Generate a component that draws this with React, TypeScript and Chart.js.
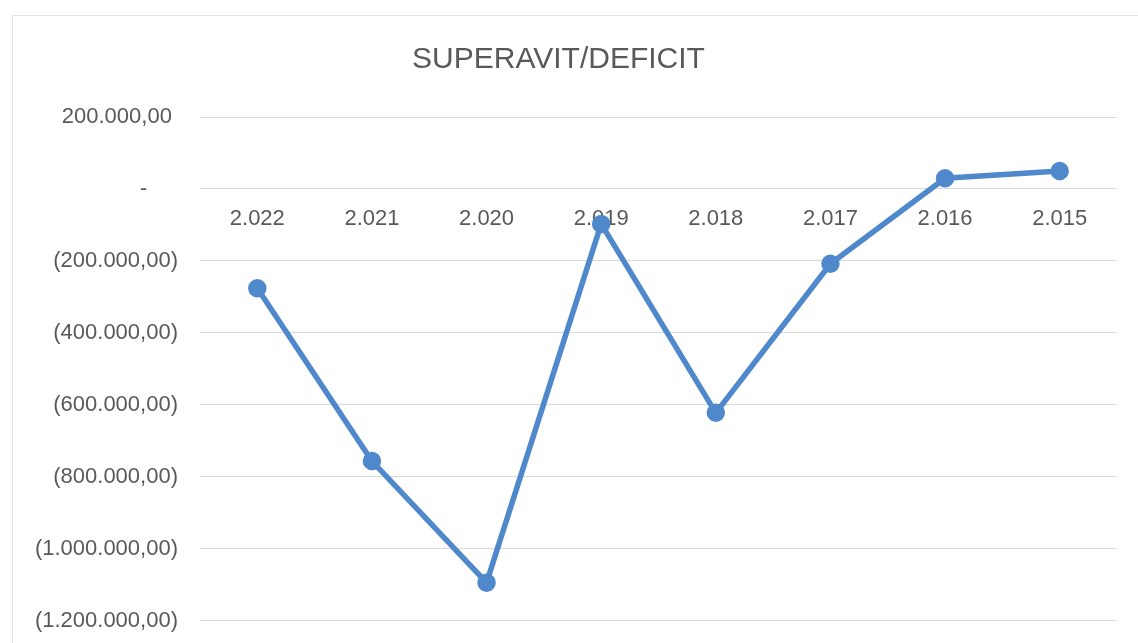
import React, { useEffect, useRef } from "react";
import { Chart, registerables } from "chart.js";

Chart.register(...registerables);

const chartTitle = "SUPERAVIT/DEFICIT";
const years = ["2.022", "2.021", "2.020", "2.019", "2.018", "2.017", "2.016", "2.015"];
const balance = [-276000, -756000, -1094000, -97000, -622000, -208000, 30000, 50000];
const yMin = -1200000;
const yMax = 200000;
const yStep = 200000;

function formatAccounting(v: number): string {
  if (Math.round(v) === 0) return "-\u2007\u2007 ";
  const abs = Math.abs(v);
  const intPart = Math.floor(abs).toString().replace(/\B(?=(\d{3})+(?!\d))/g, ".");
  const s = intPart + ",00";
  return v < 0 ? "(" + s + ")" : s + " ";
}

export default function App() {
  const canvasRef = useRef<HTMLCanvasElement | null>(null);

  useEffect(() => {
    if (!canvasRef.current) return;
    const textColor = "#595959";
    const lineColor = "#5089cb";
    const font = "'Liberation Sans', Arial, sans-serif";
    const chart = new Chart(canvasRef.current, {
      type: "line",
      data: {
        labels: years,
        datasets: [
          {
            label: chartTitle,
            data: balance,
            borderColor: lineColor,
            backgroundColor: lineColor,
            borderWidth: 5.5,
            pointRadius: 6.5,
            pointBackgroundColor: lineColor,
            pointBorderColor: lineColor,
            tension: 0,
          },
        ],
      },
      options: {
        animation: false,
        responsive: false,
        devicePixelRatio: 1,
        layout: { padding: { left: 0, right: 21, top: 0, bottom: 23 } },
        plugins: {
          legend: { display: false },
          tooltip: { enabled: false },
          title: {
            display: true,
            text: chartTitle,
            color: textColor,
            font: { family: font, size: 30, weight: "normal" },
            padding: { top: 42, bottom: 39 },
          },
        },
        scales: {
          x: {
            type: "category",
            position: { y: 0 } as any,
            offset: true,
            grid: { display: false, drawTicks: false },
            border: { display: false },
            ticks: {
              color: textColor,
              font: { family: font, size: 22 },
              padding: 17,
              maxRotation: 0,
            },
          },
          y: {
            min: yMin,
            max: yMax,
            grid: { color: "#d9d9d9", lineWidth: 1, drawTicks: false },
            border: { display: false },
            ticks: {
              stepSize: yStep,
              color: textColor,
              font: { family: font, size: 22 },
              padding: 22,
              callback: (v: any) => formatAccounting(Number(v)),
            },
            afterFit: (s: any) => {
              s.width = 200;
            },
          },
        },
      },
    });
    return () => chart.destroy();
  }, []);

  return (
    <div
      style={{
        position: "absolute",
        left: 0,
        top: 0,
        width: 1138,
        height: 643,
        overflow: "hidden",
        background: "#ffffff",
      }}
    >
      <div
        style={{
          position: "absolute",
          left: 12,
          top: 15,
          right: 0,
          bottom: 0,
          borderLeft: "1px solid #e2e2e2",
          borderTop: "1px solid #e2e2e2",
        }}
      />
      <canvas
        ref={canvasRef}
        width={1138}
        height={656}
        style={{ position: "absolute", left: 0, top: 0, width: 1138, height: 656 }}
      />
    </div>
  );
}
